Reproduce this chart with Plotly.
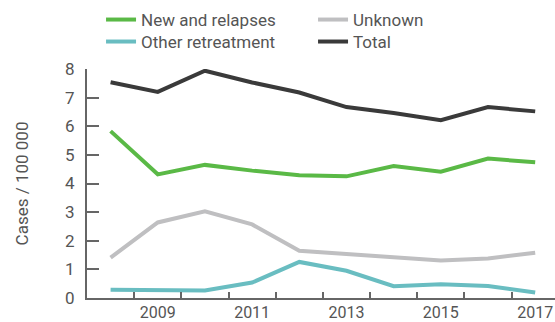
import plotly.graph_objects as go

years = [2008, 2009, 2010, 2011, 2012, 2013, 2014, 2015, 2016, 2017]
new_relapses = [5.83, 4.32, 4.65, 4.45, 4.29, 4.25, 4.61, 4.41, 4.87, 4.74]
unknown = [1.41, 2.64, 3.03, 2.57, 1.65, 1.53, 1.41, 1.31, 1.38, 1.58]
other_retreatment = [0.29, 0.27, 0.26, 0.54, 1.26, 0.95, 0.41, 0.48, 0.42, 0.19]
total = [7.54, 7.20, 7.94, 7.53, 7.18, 6.67, 6.46, 6.21, 6.67, 6.52]

x_tick_labels = [2009, 2011, 2013, 2015, 2017]
x_minor_ticks = [2008.5, 2009.5, 2010.5, 2011.5, 2012.5, 2013.5, 2014.5, 2015.5, 2016.5]
y_ticks = [0, 1, 2, 3, 4, 5, 6, 7, 8]

FONT = "Roboto"
TXT = "#555555"

series = [
    ("New and relapses", new_relapses, "#5ab946", "legend"),
    ("Unknown", unknown, "#bfbfc1", "legend"),
    ("Other retreatment", other_retreatment, "#69bdc1", "legend2"),
    ("Total", total, "#3a3a3a", "legend2"),
]

fig = go.Figure()
for name, vals, col, lg in series:
    fig.add_trace(go.Scatter(x=years, y=vals, name=name, mode="lines", legend=lg,
                             line=dict(color=col, width=4)))

legend_common = dict(orientation="h", xanchor="left", yanchor="middle",
                     entrywidth=167, entrywidthmode="pixels", itemwidth=30,
                     font=dict(family=FONT, size=17, color=TXT),
                     traceorder="normal", bgcolor="rgba(0,0,0,0)")

fig.update_layout(
    width=555, height=322,
    margin=dict(l=87, r=0, t=69, b=24, autoexpand=False),
    paper_bgcolor="white", plot_bgcolor="white",
    font=dict(family=FONT, size=16, color=TXT),
    showlegend=True,
    legend=dict(x=0.03, y=1.214, **legend_common),
    legend2=dict(x=0.03, y=1.118, **legend_common),
    xaxis=dict(range=[2007.5, 2017.42], tickvals=x_tick_labels, ticktext=[str(v) for v in x_tick_labels],
               ticks="", showgrid=False, zeroline=False, showline=True, linecolor="#666666", linewidth=2,
               ticklabelstandoff=-1,
               tickfont=dict(family=FONT, size=16, color=TXT),
               minor=dict(tickvals=x_minor_ticks, ticks="inside", ticklen=6, tickcolor="#666666",
                          tickwidth=1.5, showgrid=False)),
    yaxis=dict(range=[0, 8], tickvals=y_ticks, ticks="inside", ticklen=12, tickcolor="#666666", tickwidth=1.5,
               showgrid=False, zeroline=False, showline=True, linecolor="#666666", linewidth=2,
               ticklabelstandoff=7,
               tickfont=dict(family=FONT, size=17, color=TXT),
               title=dict(text="Cases / 100 000", standoff=32, font=dict(family=FONT, size=17, color=TXT))),
)

fig.write_html("out.html", config={"displayModeBar": False},
               post_script="document.body.style.margin='0';")
